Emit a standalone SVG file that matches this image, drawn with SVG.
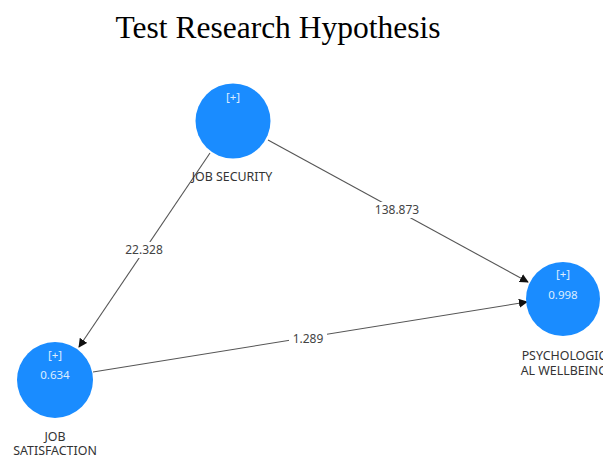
<svg xmlns="http://www.w3.org/2000/svg" width="603" height="461" viewBox="0 0 603 461">
<style>
.title{font-family:"Liberation Serif","Times New Roman",serif;font-size:31.5px;fill:#000}
.node circle{fill:#1a8cff}
.inner{font-family:"Noto Sans","Open Sans",sans-serif;font-size:11.5px;fill:#dcecff;text-anchor:middle}
.lbl{font-family:"Noto Sans","Open Sans",sans-serif;font-size:12.4px;fill:#333;text-anchor:middle}
.edge{stroke:#555;stroke-width:1.1;fill:none;marker-end:url(#ah)}
.elbl{font-family:"Noto Sans","Open Sans",sans-serif;font-size:12px;fill:#444;text-anchor:middle}
</style>
<defs>
<marker id="ah" viewBox="0 0 10 10" refX="9" refY="5" markerWidth="9" markerHeight="9" markerUnits="userSpaceOnUse" orient="auto">
<path d="M0,0 L10,5 L0,10 z" fill="#111"/>
</marker>
</defs>
<rect width="603" height="461" fill="#fff"/>
<text class="title" x="278" y="38" text-anchor="middle">Test Research Hypothesis</text>
<g id="connectors">
<line class="edge" x1="210" y1="153" x2="79" y2="347"/>
<line class="edge" x1="268" y1="140" x2="528" y2="282"/>
<line class="edge" x1="93" y1="372" x2="527" y2="302"/>
<rect x="121" y="242" width="46" height="16" fill="#fff"/>
<text class="elbl" x="144" y="254">22.328</text>
<rect x="371" y="202" width="52" height="16" fill="#fff"/>
<text class="elbl" x="397" y="214">138.873</text>
<rect x="289" y="331" width="38" height="16" fill="#fff"/>
<text class="elbl" x="308" y="343">1.289</text>
</g>
<g id="job-security" class="node">
<circle cx="233" cy="121" r="37.5"/>
<text class="inner" x="233" y="101">[+]</text>
<text class="lbl" x="232" y="181">JOB SECURITY</text>
</g>
<g id="psychological-wellbeing" class="node">
<circle cx="563" cy="299" r="37"/>
<text class="inner" x="563" y="278">[+]</text>
<text class="inner" x="563" y="299">0.998</text>
<text class="lbl" x="564" y="360">PSYCHOLOGIC</text>
<text class="lbl" x="564" y="375">AL WELLBEING</text>
</g>
<g id="job-satisfaction" class="node">
<circle cx="55" cy="380" r="38"/>
<text class="inner" x="55" y="359">[+]</text>
<text class="inner" x="55" y="379">0.634</text>
<text class="lbl" x="55" y="441">JOB</text>
<text class="lbl" x="55" y="455">SATISFACTION</text>
</g>
</svg>
